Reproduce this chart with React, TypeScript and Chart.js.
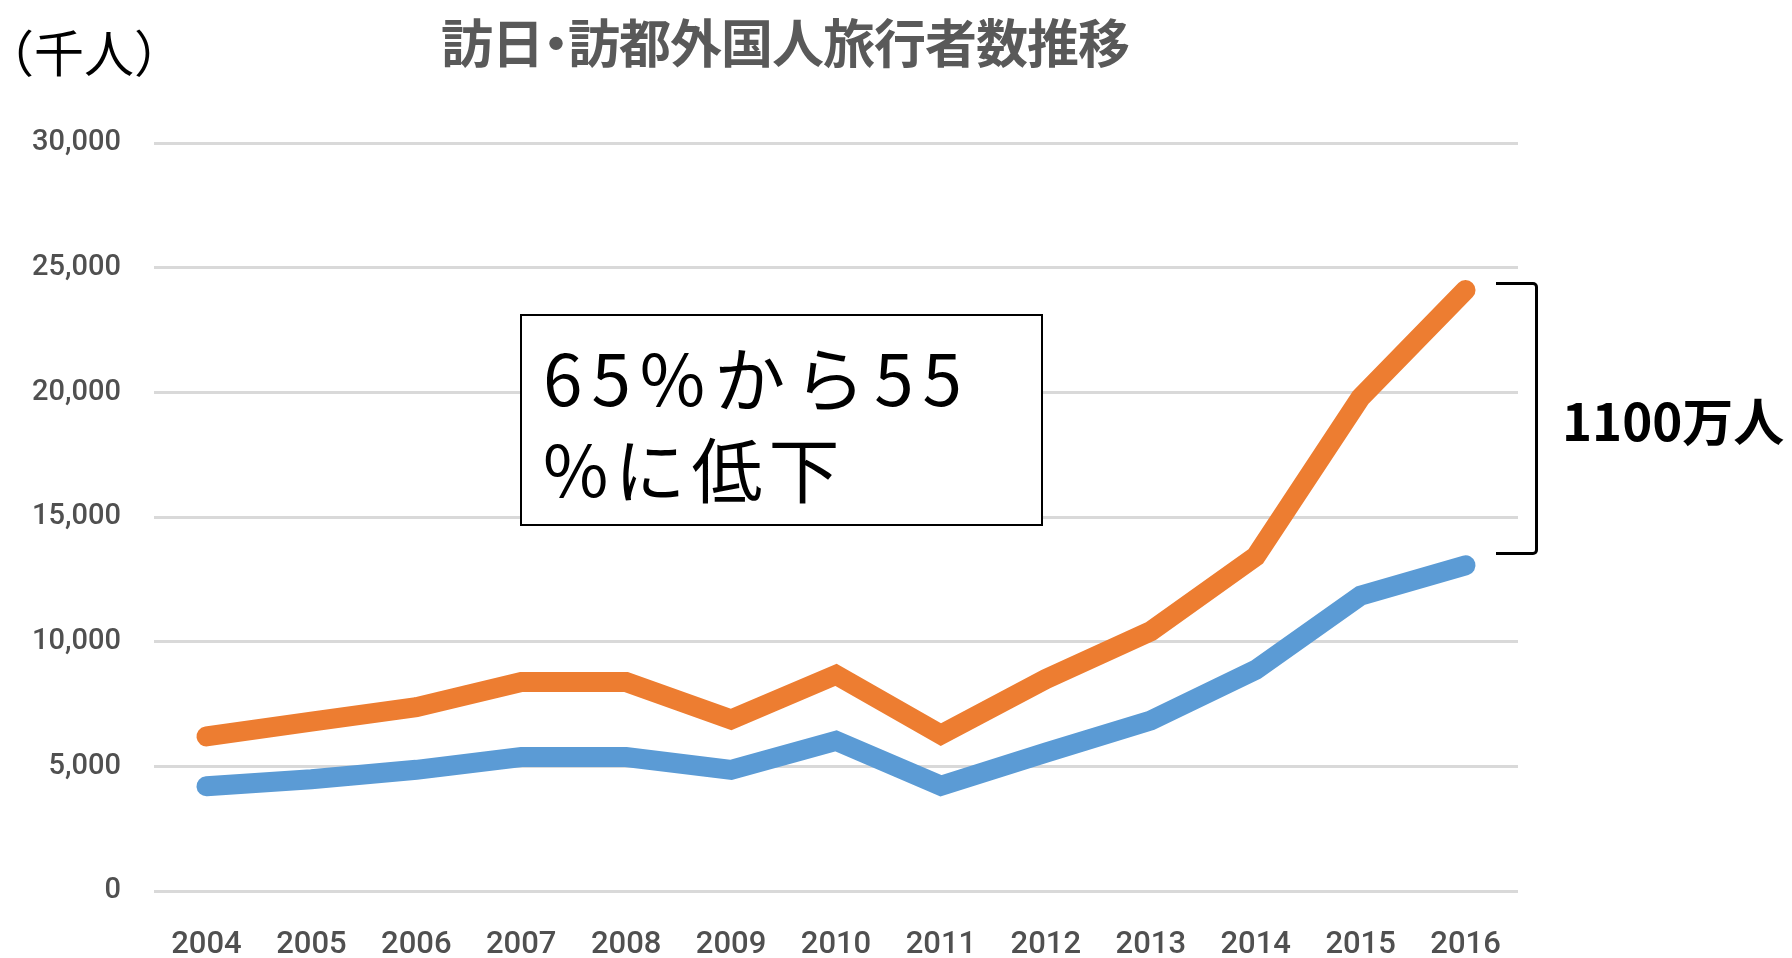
import React, { useEffect, useRef } from "react";
import { Chart, registerables } from "chart.js";

Chart.register(...registerables);

const years = ["2004", "2005", "2006", "2007", "2008", "2009", "2010", "2011", "2012", "2013", "2014", "2015", "2016"];
const visitorsJapan = [6200, 6790, 7370, 8380, 8380, 6880, 8670, 6270, 8500, 10420, 13420, 19790, 24100];
const visitorsTokyo = [4200, 4480, 4860, 5370, 5370, 4860, 6020, 4220, 5550, 6840, 8870, 11850, 13060];
const yMin = 0;
const yMax = 30000;
const yStep = 5000;

const titleA = "訪日";
const titleDot = "・";
const titleB = "訪都外国人旅行者数推移";
const unitText = "（千人）";
const boxLine1 = "65%から55";
const boxLine2 = "%に低下";
const diffText = "1100万人";

export default function App() {
  const canvasRef = useRef<HTMLCanvasElement | null>(null);

  useEffect(() => {
    if (!canvasRef.current) return;
    const chart = new Chart(canvasRef.current, {
      type: "line",
      data: {
        labels: years,
        datasets: [
          {
            label: "訪日外国人旅行者数",
            data: visitorsJapan,
            borderColor: "#ED7D31",
            backgroundColor: "#ED7D31",
            borderWidth: 20,
            borderCapStyle: "round",
            borderJoinStyle: "miter",
            pointRadius: 0,
            tension: 0,
            fill: false,
          },
          {
            label: "訪都外国人旅行者数",
            data: visitorsTokyo,
            borderColor: "#5B9BD5",
            backgroundColor: "#5B9BD5",
            borderWidth: 20,
            borderCapStyle: "round",
            borderJoinStyle: "miter",
            pointRadius: 0,
            tension: 0,
            fill: false,
          },
        ],
      },
      options: {
        responsive: false,
        animation: false,
        layout: { padding: { top: 143, right: 274, left: 0, bottom: 0 } },
        plugins: {
          legend: { display: false },
          title: { display: false },
          tooltip: { enabled: false },
        },
        scales: {
          x: {
            offset: true,
            grid: { display: false, drawTicks: false },
            border: { display: false },
            ticks: {
              padding: 36,
              color: "#505050",
              font: { family: "Roboto, sans-serif", size: 31, weight: "500" },
              maxRotation: 0,
              autoSkip: false,
            },
            afterFit: (s: any) => {
              s.height = 67;
            },
          },
          y: {
            min: yMin,
            max: yMax,
            grid: { color: "#D9D9D9", lineWidth: 3, drawTicks: false },
            border: { display: false },
            ticks: {
              stepSize: yStep,
              padding: 33,
              color: "#505050",
              font: { family: "Roboto, sans-serif", size: 29, weight: "500" },
            },
            afterFit: (s: any) => {
              s.width = 154;
            },
          },
        },
      },
    });
    return () => chart.destroy();
  }, []);

  const jp = "'Noto Sans CJK JP', sans-serif";

  return (
    <div style={{ position: "fixed", left: 0, top: 0, width: 1792, height: 958, background: "#fff", overflow: "hidden" }}>
      <canvas ref={canvasRef} width={1792} height={958} style={{ position: "absolute", left: 0, top: 0, width: 1792, height: 958 }} />
      <div style={{ position: "absolute", left: -16, top: 22, fontFamily: jp, fontSize: 50, lineHeight: "56px", color: "#000", whiteSpace: "nowrap" }}>
        {unitText}
      </div>
      <div style={{ position: "absolute", left: 441, top: 13, fontFamily: jp, fontWeight: 700, fontSize: 52, lineHeight: "56px", letterSpacing: -1, color: "#595959", whiteSpace: "nowrap" }}>
        {titleA}
        <span style={{ display: "inline-block", marginLeft: -13, marginRight: -13 }}>{titleDot}</span>
        {titleB}
      </div>
      <div style={{ position: "absolute", left: 520, top: 314, width: 523, height: 212, boxSizing: "border-box", border: "2px solid #000", background: "#fff" }}>
        <div style={{ position: "absolute", left: 21, top: 14, fontFamily: jp, fontSize: 71, lineHeight: "91px", color: "#000", whiteSpace: "nowrap" }}>
          <div style={{ letterSpacing: 9 }}>{boxLine1}</div>
          <div style={{ letterSpacing: 6 }}>{boxLine2}</div>
        </div>
      </div>
      <div style={{ position: "absolute", left: 1496, top: 282, width: 42, height: 273, boxSizing: "border-box", borderTop: "3.5px solid #000", borderRight: "3.5px solid #000", borderBottom: "3.5px solid #000", borderRadius: "0 5px 5px 0" }} />
      <div style={{ position: "absolute", left: 1562, top: 389, fontFamily: jp, fontWeight: 700, fontSize: 51, lineHeight: "60px", color: "#000", whiteSpace: "nowrap" }}>
        {diffText}
      </div>
    </div>
  );
}
